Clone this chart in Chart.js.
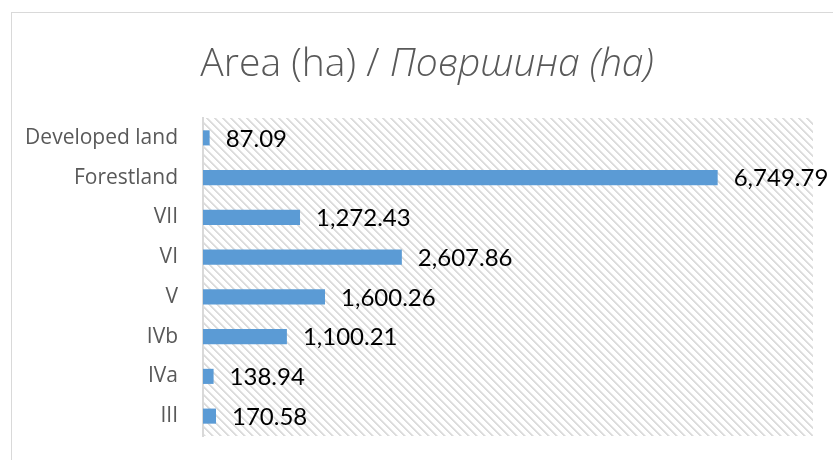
<!DOCTYPE html>
<html lang="en">
<head>
    <meta charset="UTF-8">
    <title>Area (ha)</title>
    <script src="https://cdn.jsdelivr.net/npm/chart.js"></script>
    <style>
        * { margin: 0; padding: 0; box-sizing: border-box; }
        body { background: #ffffff; width: 833px; height: 460px; overflow: hidden; }
    </style>
</head>
<body>
    <canvas id="areaChart" width="833" height="460"></canvas>

    <script>
        const categories = ['Developed land', 'Forestland', 'VII', 'VI', 'V', 'IVb', 'IVa', 'III'];
        const areaValues = [87.09, 6749.79, 1272.43, 2607.86, 1600.26, 1100.21, 138.94, 170.58];

        function makeHatch() {
            const c = document.createElement('canvas');
            c.width = 8;
            c.height = 8;
            const g = c.getContext('2d');
            g.fillStyle = '#ffffff';
            g.fillRect(0, 0, 8, 8);
            for (let y = 0; y < 8; y++) {
                for (let x = 0; x < 8; x++) {
                    const d = (x - y + 8) % 8;
                    if (d === 0 || d === 1) {
                        g.fillStyle = '#dcdcdc';
                        g.fillRect(x, y, 1, 1);
                    } else if (d === 2) {
                        g.fillStyle = '#ececec';
                        g.fillRect(x, y, 1, 1);
                    }
                }
            }
            return c;
        }

        const frameAndHatch = {
            id: 'frameAndHatch',
            beforeDraw(chart) {
                const { ctx, chartArea } = chart;
                ctx.save();
                ctx.strokeStyle = '#d9d9d9';
                ctx.lineWidth = 1;
                ctx.strokeRect(11.5, 12.5, 900, 500);
                ctx.fillStyle = ctx.createPattern(makeHatch(), 'repeat');
                ctx.fillRect(chartArea.left, chartArea.top, chartArea.right - chartArea.left, chartArea.bottom - chartArea.top);
                ctx.restore();
            },
            afterDraw(chart) {
                const { ctx } = chart;
                ctx.save();
                // title, second half in italics
                const partA = 'Area (ha) / ';
                const partB = 'Површина (ha)';
                const fontA = '300 39px "Open Sans"';
                const fontB = 'italic 300 39px "Open Sans"';
                ctx.font = fontA;
                const wA = ctx.measureText(partA).width;
                ctx.font = fontB;
                const wB = ctx.measureText(partB).width;
                const x0 = 427 - (wA + wB) / 2;
                ctx.fillStyle = '#595959';
                ctx.textBaseline = 'alphabetic';
                ctx.textAlign = 'left';
                ctx.font = fontA;
                ctx.fillText(partA, x0, 76);
                ctx.font = fontB;
                ctx.fillText(partB, x0 + wA, 76);

                // value labels
                const meta = chart.getDatasetMeta(0);
                ctx.font = '24px Lato';
                ctx.fillStyle = '#000000';
                ctx.textBaseline = 'middle';
                meta.data.forEach((bar, i) => {
                    const txt = areaValues[i].toLocaleString('en-US', { minimumFractionDigits: 2, maximumFractionDigits: 2 });
                    ctx.fillText(txt, bar.x + 16, bar.y + 1);
                });
                ctx.restore();
            }
        };

        const ctx = document.getElementById('areaChart').getContext('2d');
        new Chart(ctx, {
            type: 'bar',
            data: {
                labels: categories,
                datasets: [{
                    data: areaValues,
                    backgroundColor: '#5b9bd5',
                    borderWidth: 0,
                    categoryPercentage: 1,
                    barPercentage: 0.38
                }]
            },
            options: {
                indexAxis: 'y',
                responsive: false,
                animation: false,
                layout: { padding: { top: 118, right: 20, bottom: 24, left: 0 } },
                plugins: {
                    legend: { display: false },
                    tooltip: { enabled: false }
                },
                scales: {
                    x: {
                        display: false,
                        min: 0,
                        max: 8000
                    },
                    y: {
                        grid: { display: false, drawTicks: false },
                        border: { display: true, color: '#d9d9d9', width: 2 },
                        ticks: {
                            color: '#595959',
                            padding: 25,
                            font: { family: 'Open Sans', size: 21 }
                        },
                        afterFit(scale) {
                            scale.width = 203;
                            scale.paddingTop = 0;
                            scale.paddingBottom = 0;
                        }
                    }
                }
            },
            plugins: [frameAndHatch]
        });
    </script>
</body>
</html>
